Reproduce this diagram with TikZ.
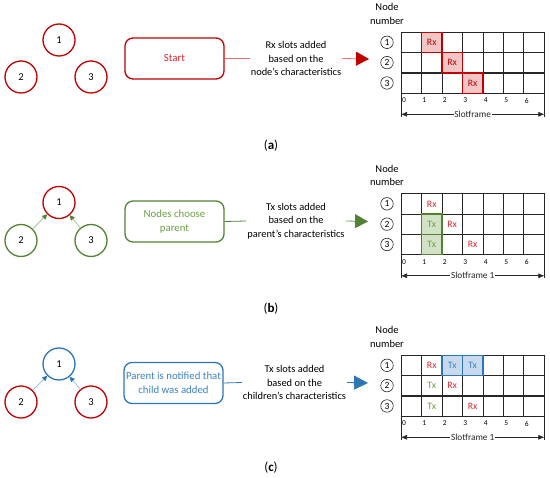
\documentclass[tikz,border=0pt]{standalone}
\usepackage{fontspec}
\setmainfont{Carlito}
\usetikzlibrary{arrows.meta}
\definecolor{cred}{HTML}{C00000}
\definecolor{credtxt}{HTML}{D9262E}
\definecolor{credl}{HTML}{E87070}
\definecolor{credfill}{HTML}{F2C6C6}
\definecolor{cgreen}{HTML}{548235}
\definecolor{cgreentxt}{HTML}{6A9F45}
\definecolor{cgreenl}{HTML}{A9C99A}
\definecolor{cgreenfill}{HTML}{D3E2C6}
\definecolor{cblue}{HTML}{2E75B6}
\definecolor{cbluetxt}{HTML}{3B82C4}
\definecolor{cbluel}{HTML}{9DC3E6}
\definecolor{cbluefill}{HTML}{C9DAEE}
\definecolor{cgrid}{HTML}{262626}
\tikzset{
  tnode/.style={circle, draw, line width=1.3pt, minimum size=32pt, inner sep=0pt, font=\fontsize{10.5}{12}\selectfont},
  stepbox/.style={draw, rounded corners=8pt, line width=1.3pt, minimum width=99pt, minimum height=41pt, align=center, inner sep=1pt, font=\fontsize{10.8}{13.5}\selectfont},
  desc/.style={align=center, font=\fontsize{10.4}{13.3}\selectfont, inner sep=1pt},
  cnum/.style={circle, draw=cgrid, line width=0.6pt, minimum size=12.5pt, inner sep=0pt, font=\fontsize{9.5}{10}\selectfont},
  celltext/.style={font=\fontsize{9.8}{11}\selectfont, inner sep=0pt},
  gridnum/.style={font=\fontsize{7.5}{8}\selectfont, anchor=west, inner sep=0.8pt},
  vline/.style={draw=cgrid, line width=0.8pt},
  hline/.style={draw=cgrid, line width=1.2pt},
  sublabel/.style={font=\rmfamily\fontsize{13}{15}\selectfont},
}
% #1 suffix, #2 frame label
\newcommand\slotgrid[2]{%
  \foreach \i in {0,...,7} \draw[vline] ({401+\i*20.48},32.3) -- ({401+\i*20.48},93.3);
  \foreach \j in {0,...,3} \draw[hline] (400.6,{32.3+\j*20.33}) -- (544.8,{32.3+\j*20.33});
  \draw[vline] (401,93.3) -- (401,117);
  \draw[vline] (544.4,93.3) -- (544.4,117);
  \foreach \i in {0,...,6} \node[gridnum] (gn#1\i) at ({401+\i*20.48},100.5) {\i};
  \coordinate (sfL#1) at (401,114.3);
  \coordinate (sfR#1) at (544.4,114.3);
  \draw[{Latex[length=6pt,width=5pt]}-{Latex[length=6pt,width=5pt]}, line width=0.6pt, cgrid]
     (sfL#1) -- node[fill=white, inner sep=0.8pt, font=\fontsize{9.3}{10}\selectfont] (sf#1) {#2} (sfR#1);
  \node[align=center, font=\fontsize{10.5}{13.5}\selectfont, inner sep=0pt] (nn#1) at (387,14) {Node\\number};
  \foreach \j in {1,2,3} \node[cnum] (cn#1\j) at (387,{42.3+(\j-1)*20.33}) {\j};
}
% #1 col, #2 row(0..2), #3 fill, #4 border
\newcommand\hcell[4]{%
  \draw[fill=#3, draw=#4, line width=1.3pt] ({401+#1*20.48},{32.3+#2*20.33}) rectangle ++(20.48,20.33);
}
% #1 name, #2 col, #3 row, #4 colour, #5 text
\newcommand\ctext[5]{%
  \node[celltext, text=#4] (#1) at ({401+(#2+0.5)*20.48},{32.3+(#3+0.5)*20.33}) {#5};
}
\begin{document}
\begin{tikzpicture}[x=1pt,y=-1pt]
\useasboundingbox (0,0) rectangle (550,478);

% ---------------- (a)
\begin{scope}
  \node[tnode, draw=cred] (a1) at (59,40) {1};
  \node[tnode, draw=cred] (a2) at (21,77) {2};
  \node[tnode, draw=cred] (a3) at (91,77) {3};
  \node[stepbox, draw=cred, text=credtxt] (aBox) at (174.5,58.5) {Start};
  \node[desc] (aDesc) at (296,58.5) {Rx slots added\\based on the\\node's characteristics};
  \draw[credl, line width=0.8pt] (aBox.east) -- (aDesc.west);
  \coordinate (aEnd) at (369,59);
  \draw[credl, line width=0.8pt, -{Triangle[length=13pt,width=14pt,color=cred]}] (aDesc.east) -- (aEnd);
  \slotgrid{a}{Slotframe}
  \hcell{1}{0}{credfill}{cred}
  \hcell{2}{1}{credfill}{cred}
  \hcell{3}{2}{credfill}{cred}
  \ctext{aR1}{1}{0}{cred}{Rx}
  \ctext{aR2}{2}{1}{cred}{Rx}
  \ctext{aR3}{3}{2}{cred}{Rx}
  \node[sublabel] (aLab) at (271,146) {(\textbf{a})};
\end{scope}

% ---------------- (b)
\begin{scope}[yshift=-161.5pt]
  \node[tnode, draw=cred] (b1) at (59,41) {1};
  \node[tnode, draw=cgreen] (b2) at (21,79) {2};
  \node[tnode, draw=cgreen] (b3) at (91,79) {3};
  \draw[cgreenl, line width=0.8pt, -{Triangle[length=5pt,width=5pt,color=cgreen]}] (b2) -- (b1);
  \draw[cgreenl, line width=0.8pt, -{Triangle[length=5pt,width=5pt,color=cgreen]}] (b3) -- (b1);
  \node[stepbox, draw=cgreen, text=cgreentxt] (bBox) at (174.5,60) {Nodes choose\\parent};
  \node[desc] (bDesc) at (296,59.5) {Tx slots added\\based on the\\parent's characteristics};
  \draw[cgreen, line width=0.8pt] (bBox.east) -- (bDesc.west);
  \coordinate (bEnd) at (368,60);
  \draw[cgreentxt, line width=0.8pt, -{Triangle[length=13pt,width=14pt,color=cgreen]}] (bDesc.east) -- (bEnd);
  \slotgrid{b}{Slotframe 1}
  \hcell{1}{1}{cgreenfill}{cgreen}
  \hcell{1}{2}{cgreenfill}{cgreen}
  \ctext{bR1}{1}{0}{credtxt}{Rx}
  \ctext{bT2}{1}{1}{cgreentxt}{Tx}
  \ctext{bR2}{2}{1}{credtxt}{Rx}
  \ctext{bT3}{1}{2}{cgreentxt}{Tx}
  \ctext{bR3}{3}{2}{credtxt}{Rx}
  \node[sublabel] (bLab) at (271,147) {(\textbf{b})};
\end{scope}

% ---------------- (c)
\begin{scope}[yshift=-323pt]
  \node[tnode, draw=cblue] (c1) at (59,41) {1};
  \node[tnode, draw=cred] (c2) at (21,79) {2};
  \node[tnode, draw=cred] (c3) at (91,79) {3};
  \draw[cbluel, line width=0.8pt, -{Triangle[length=5pt,width=5pt,color=cblue]}] (c2) -- (c1);
  \draw[cbluel, line width=0.8pt, -{Triangle[length=5pt,width=5pt,color=cblue]}] (c3) -- (c1);
  \node[stepbox, draw=cblue, text=cbluetxt] (cBox) at (173.5,60) {Parent is notified that\\child was added};
  \node[desc] (cDesc) at (294.5,59.5) {Tx slots added\\based on the\\children's characteristics};
  \draw[cblue, line width=0.8pt] (cBox.east) -- (cDesc.west);
  \coordinate (cEnd) at (368,60);
  \draw[cblue, line width=0.8pt, -{Triangle[length=14pt,width=14pt,color=cblue]}] (cDesc.east) -- (cEnd);
  \slotgrid{c}{Slotframe 1}
  \hcell{2}{0}{cbluefill}{cblue}
  \hcell{3}{0}{cbluefill}{cblue}
  \ctext{cR1}{1}{0}{credtxt}{Rx}
  \ctext{cT1a}{2}{0}{cbluetxt}{Tx}
  \ctext{cT1b}{3}{0}{cbluetxt}{Tx}
  \ctext{cT2}{1}{1}{cgreentxt}{Tx}
  \ctext{cR2}{2}{1}{credtxt}{Rx}
  \ctext{cT3}{1}{2}{cgreentxt}{Tx}
  \ctext{cR3}{3}{2}{credtxt}{Rx}
  \node[sublabel] (cLab) at (271,145) {(\textbf{c})};
\end{scope}
\end{tikzpicture}
\end{document}
